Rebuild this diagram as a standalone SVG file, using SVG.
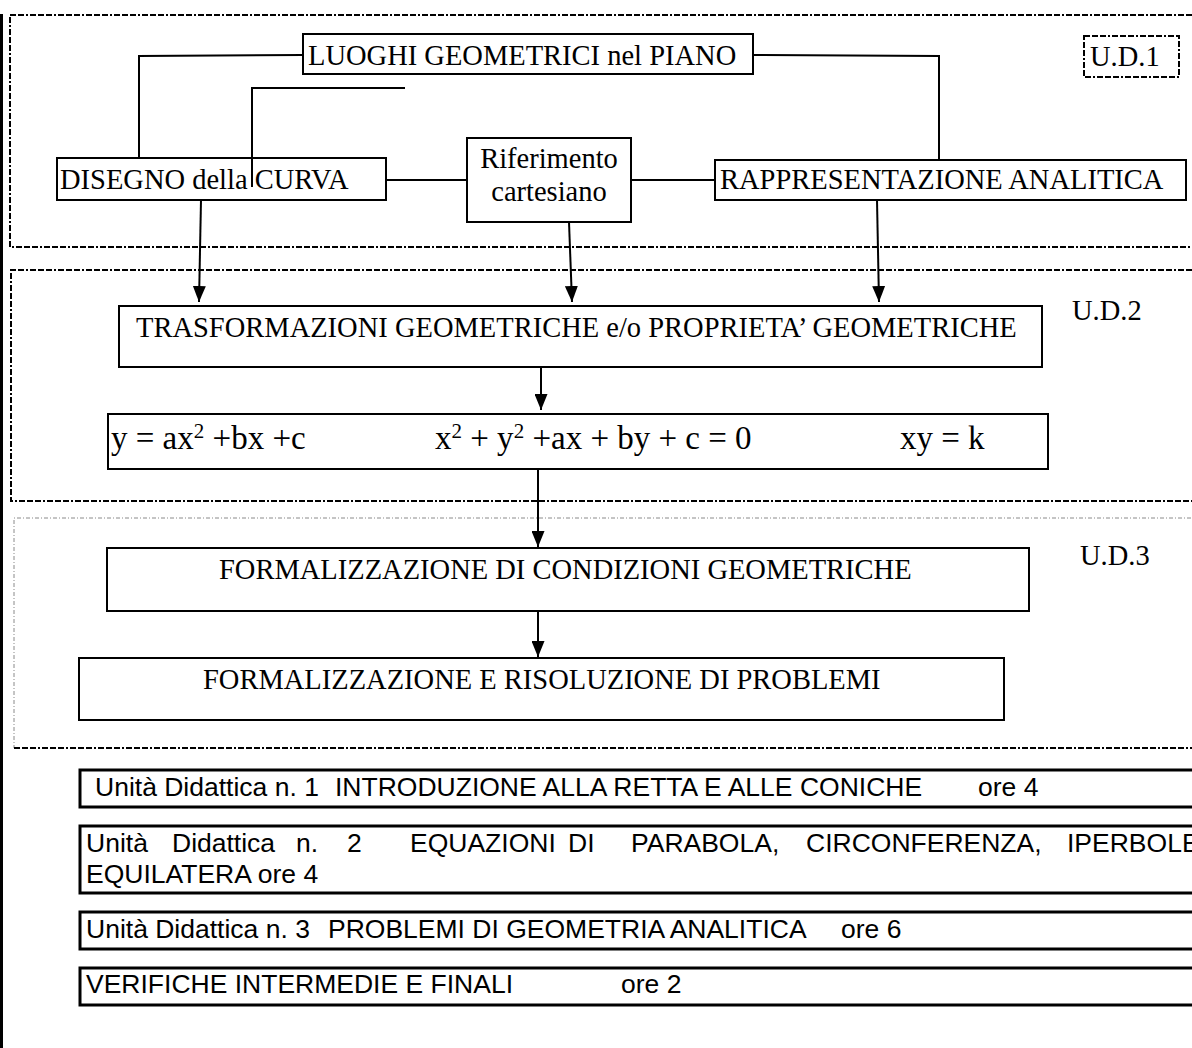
<svg xmlns="http://www.w3.org/2000/svg" width="1192" height="1048" viewBox="0 0 1192 1048">
  <style>
    .bg { fill: #ffffff; }
    .node { fill: #ffffff; stroke: #000000; stroke-width: 2; }
    .serif { font-family: "Liberation Serif", "Times New Roman", serif; fill: #000000; }
    .t28 { font-size: 28.5px; }
    .t33 { font-size: 33px; }
    .sup { font-size: 21px; }
    .sans { font-family: "Liberation Sans", Arial, sans-serif; font-size: 26.5px; fill: #000000; }
    .frame { fill: none; stroke: #000000; stroke-width: 2; stroke-dasharray: 6 2 6 2 6 2 2 2; }
    .frame-light { fill: none; stroke: #8a8a8a; stroke-width: 1; stroke-dasharray: 4 2 1 2; }
    .link { fill: none; stroke: #000000; stroke-width: 2; }
    .arrow { fill: none; stroke: #000000; stroke-width: 2; marker-end: url(#head); }
    .row { fill: none; stroke: #000000; stroke-width: 3; }
  </style>
  <defs>
    <marker id="head" viewBox="0 0 16 13" refX="16" refY="6.5" markerWidth="16" markerHeight="13" markerUnits="userSpaceOnUse" orient="auto">
      <path d="M0,0 L16,6.5 L0,13 z" fill="#000000"/>
    </marker>
  </defs>

  <rect class="bg" x="0" y="0" width="1192" height="1048"/>

  <!-- page margin rule -->
  <line x1="1.5" y1="14" x2="1.5" y2="1048" stroke="#000000" stroke-width="3"/>

  <!-- unit frames -->
  <g id="frames">
    <path class="frame" d="M1200,15 H10 V247 H1200"/>
    <path class="frame" d="M1200,270 H11 V501 H1200"/>
    <path class="frame-light" d="M1200,518 H14 V748"/>
    <path class="frame" d="M14,748 H1200"/>
  </g>

  <!-- connectors -->
  <g id="connectors">
    <polyline class="link" points="303,55 139,56 139,158"/>
    <polyline class="link" points="405,88 252,88 252,187"/>
    <polyline class="link" points="753,55 939,56 939,160"/>
    <line class="link" x1="386" y1="180" x2="467" y2="180"/>
    <line class="link" x1="631" y1="180" x2="715" y2="180"/>
    <line class="arrow" x1="201" y1="200" x2="199" y2="302"/>
    <line class="arrow" x1="569" y1="222" x2="572" y2="302"/>
    <line class="arrow" x1="877" y1="200" x2="879" y2="302"/>
    <line class="arrow" x1="541" y1="367" x2="541" y2="410"/>
    <line class="arrow" x1="538" y1="469" x2="538" y2="547"/>
    <line class="arrow" x1="538" y1="611" x2="538" y2="657"/>
  </g>

  <!-- U.D.1 -->
  <g id="luoghi">
    <rect class="node" x="303" y="34" width="450" height="40"/>
    <text class="serif t28" x="308" y="65">LUOGHI GEOMETRICI nel PIANO</text>
  </g>
  <g id="ud1">
    <rect class="frame" x="1084" y="36" width="95" height="41"/>
    <text class="serif t28" x="1090" y="66">U.D.1</text>
  </g>
  <g id="disegno">
    <rect x="57" y="158" width="329" height="42" fill="none" stroke="#000000" stroke-width="2"/>
    <text class="serif t28" x="60" y="189">DISEGNO della CURVA</text>
  </g>
  <g id="riferimento">
    <rect class="node" x="467" y="138" width="164" height="84"/>
    <text class="serif t28" x="549" y="168" text-anchor="middle">Riferimento</text>
    <text class="serif t28" x="549" y="201" text-anchor="middle">cartesiano</text>
  </g>
  <g id="rappresentazione">
    <rect class="node" x="715" y="160" width="471" height="40"/>
    <text class="serif t28" x="720" y="189">RAPPRESENTAZIONE ANALITICA</text>
  </g>

  <!-- U.D.2 -->
  <g id="trasformazioni">
    <rect class="node" x="119" y="306" width="923" height="61"/>
    <text class="serif t28" x="136" y="337">TRASFORMAZIONI GEOMETRICHE e/o PROPRIETA’ GEOMETRICHE</text>
  </g>
  <g id="equazioni">
    <rect class="node" x="108" y="414" width="940" height="55"/>
    <text class="serif t33" x="111" y="449">y = ax<tspan class="sup" dy="-11">2</tspan><tspan dy="11"> +bx +c</tspan></text>
    <text class="serif t33" x="435" y="449">x<tspan class="sup" dy="-11">2</tspan><tspan dy="11"> + y</tspan><tspan class="sup" dy="-11">2</tspan><tspan dy="11"> +ax + by + c = 0</tspan></text>
    <text class="serif t33" x="900" y="449">xy = k</text>
  </g>
  <g id="ud2">
    <text class="serif t28" x="1072" y="320">U.D.2</text>
  </g>

  <!-- U.D.3 -->
  <g id="condizioni">
    <rect class="node" x="107" y="548" width="922" height="63"/>
    <text class="serif t28" x="219" y="579">FORMALIZZAZIONE DI CONDIZIONI GEOMETRICHE</text>
  </g>
  <g id="problemi">
    <rect class="node" x="79" y="658" width="925" height="62"/>
    <text class="serif t28" x="203" y="689">FORMALIZZAZIONE E RISOLUZIONE DI PROBLEMI</text>
  </g>
  <g id="ud3">
    <text class="serif t28" x="1080" y="565">U.D.3</text>
  </g>

  <!-- schedule -->
  <g id="ud1-hours">
    <path class="row" d="M1200,770 H80 V807 H1200"/>
    <text class="sans" y="796"><tspan x="95">Unità Didattica n. 1</tspan><tspan x="335">INTRODUZIONE ALLA RETTA E ALLE CONICHE</tspan><tspan x="978">ore 4</tspan></text>
  </g>
  <g id="ud2-hours">
    <path class="row" d="M1200,826 H80 V893 H1200"/>
    <text class="sans" y="852"><tspan x="86">Unità</tspan><tspan x="172">Didattica</tspan><tspan x="296">n.</tspan><tspan x="347">2</tspan><tspan x="410">EQUAZIONI</tspan><tspan x="568">DI</tspan><tspan x="631">PARABOLA,</tspan><tspan x="806">CIRCONFERENZA,</tspan><tspan x="1067">IPERBOLE</tspan></text>
    <text class="sans" x="86" y="883">EQUILATERA ore 4</text>
  </g>
  <g id="ud3-hours">
    <path class="row" d="M1200,912 H80 V949 H1200"/>
    <text class="sans" y="938"><tspan x="86">Unità Didattica n. 3</tspan><tspan x="328">PROBLEMI DI GEOMETRIA ANALITICA</tspan><tspan x="841">ore 6</tspan></text>
  </g>
  <g id="verifiche-hours">
    <path class="row" d="M1200,968 H80 V1005 H1200"/>
    <text class="sans" y="993"><tspan x="86">VERIFICHE INTERMEDIE E FINALI</tspan><tspan x="621">ore 2</tspan></text>
  </g>
</svg>
